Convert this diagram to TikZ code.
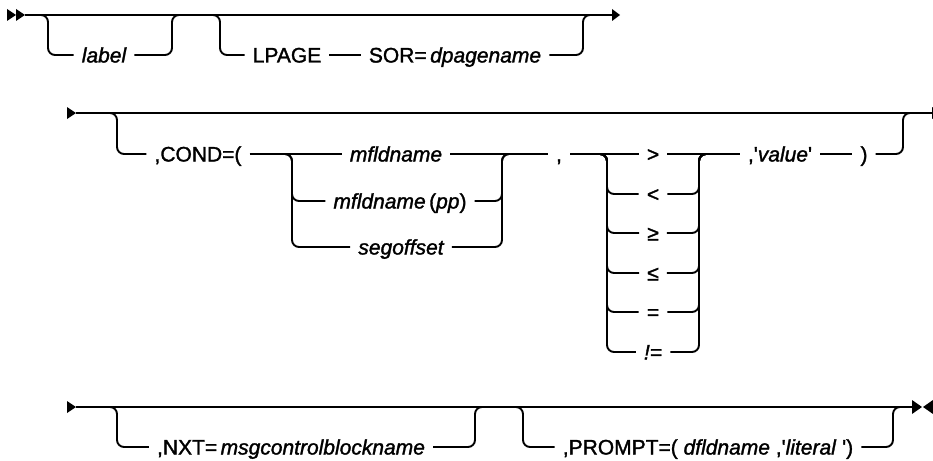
\documentclass[tikz,border=0pt]{standalone}
\usepackage{fontspec}
\setmainfont{Liberation Sans}[FakeBold=1.5]
\tikzset{
  rail/.style={line width=1.9pt, rounded corners=7pt},
  lbl/.style={inner xsep=8pt, inner ysep=0pt, text height=15pt, text depth=0pt,
              font=\fontsize{21}{24}\selectfont},
}
\newcommand{\sq}{\textquotesingle}
\begin{document}
\begin{tikzpicture}[x=1pt,y=-1pt]
\useasboundingbox (0,0) rectangle (933,460);

% ---------------- Row 1 ----------------
\coordinate (r1s) at (25,15);
\coordinate (r1e) at (612,15);
\fill (r1s) -- ++(-9,-6) -- ++(0,12) -- cycle;
\fill (r1s) ++(-9,0) -- ++(-9,-6) -- ++(0,12) -- cycle;
\draw[rail] (r1s) -- (r1e);
\fill (r1e) -- ++(0,-6) -- ++(8,6) -- ++(-8,6) -- cycle;

\coordinate (b1l) at (48,15);
\coordinate (b1r) at (172,15);
\node[lbl] (label) at (104,55) {\itshape label};
\draw[rail] (b1l) ++(-8,0) -- (b1l) |- (label.west);
\draw[rail] (label.east) -| (b1r) -- ++(8,0);

\coordinate (b2l) at (220,15);
\coordinate (b2r) at (583,15);
\node[lbl] (lpage) at (287,55) {LPAGE};
\node[lbl] (sor) at (455,55) {SOR=\,\textit{dpagename}};
\draw[rail] (b2l) ++(-8,0) -- (b2l) |- (lpage.west);
\draw[rail] (lpage.east) -- (sor.west);
\draw[rail] (sor.east) -| (b2r) -- ++(8,0);

% ---------------- Row 2 ----------------
\coordinate (r2s) at (76,113);
\coordinate (r2e) at (932,113);
\fill (r2s) -- ++(-9,-6) -- ++(0,12) -- cycle;
\draw[rail] (r2s) -- (r2e);
\fill (r2e) -- ++(0,-6) -- ++(9,6) -- ++(-9,6) -- cycle;

\coordinate (c1l) at (117,113);
\coordinate (c1r) at (903,113);
\node[lbl] (cond) at (198,154) {,COND=(};
\draw[rail] (c1l) ++(-8,0) -- (c1l) |- (cond.west);

\coordinate (g1l) at (292,154);
\coordinate (g1r) at (502,154);
\node[lbl] (mf1) at (396,154) {\itshape mfldname};
\node[lbl] (mf2) at (400,201) {\textit{mfldname}\,(\textit{pp})};
\node[lbl] (seg) at (401,247) {\itshape segoffset};
\draw[rail] (cond.east) -- (mf1.west);
\draw[rail] (g1l) ++(-8,0) -- (g1l) |- (mf2.west);
\draw[rail] (g1l) ++(-8,0) -- (g1l) |- (seg.west);
\draw[rail] (mf2.east) -| (g1r) -- ++(8,0);
\draw[rail] (seg.east) -| (g1r) -- ++(8,0);

\node[lbl] (comma) at (559,154) {,};
\draw[rail] (mf1.east) -- (comma.west);

\coordinate (g2l) at (607,154);
\coordinate (g2r) at (699,154);
\node[lbl] (op1) at (653,154) {>};
\node[lbl] (op2) at (653,194) {<};
\node[lbl] (op3) at (653,233) {≥};
\node[lbl] (op4) at (653,273) {≤};
\node[lbl] (op5) at (653,312) {=};
\node[lbl] (op6) at (653,352) {\itshape !=};
\draw[rail] (comma.east) -- (op1.west);
\foreach \o in {op2,op3,op4,op5,op6}{
  \draw[rail] (g2l) ++(-8,0) -- (g2l) |- (\o.west);
  \draw[rail] (\o.east) -| (g2r) -- ++(8,0);
}

\node[lbl] (val) at (780,154) {,\sq\textit{value}\sq};
\node[lbl] (rp) at (864,154) {)};
\draw[rail] (op1.east) -- (val.west);
\draw[rail] (val.east) -- (rp.west);
\draw[rail] (rp.east) -| (c1r) -- ++(8,0);

% ---------------- Row 3 ----------------
\coordinate (r3s) at (76,407);
\coordinate (r3e) at (912,407);
\fill (r3s) -- ++(-9,-6) -- ++(0,12) -- cycle;
\draw[rail] (r3s) -- (r3e);
\fill (r3e) -- ++(0,-7) -- ++(10,7) -- ++(-10,7) -- cycle;
\fill (r3e) ++(21,-7) -- ++(-10,7) -- ++(10,7) -- cycle;

\coordinate (n1l) at (117,407);
\coordinate (n1r) at (475,407);
\node[lbl] (nxt) at (291,447) {,NXT=\,\textit{msgcontrolblockname}};
\draw[rail] (n1l) ++(-8,0) -- (n1l) |- (nxt.west);
\draw[rail] (nxt.east) -| (n1r) -- ++(8,0);

\coordinate (p1l) at (523,407);
\coordinate (p1r) at (893,407);
\node[lbl] (prompt) at (708,447) {,PROMPT=( \textit{dfldname} ,\sq\textit{literal} \sq)};
\draw[rail] (p1l) ++(-8,0) -- (p1l) |- (prompt.west);
\draw[rail] (prompt.east) -| (p1r) -- ++(8,0);
\end{tikzpicture}
\end{document}
